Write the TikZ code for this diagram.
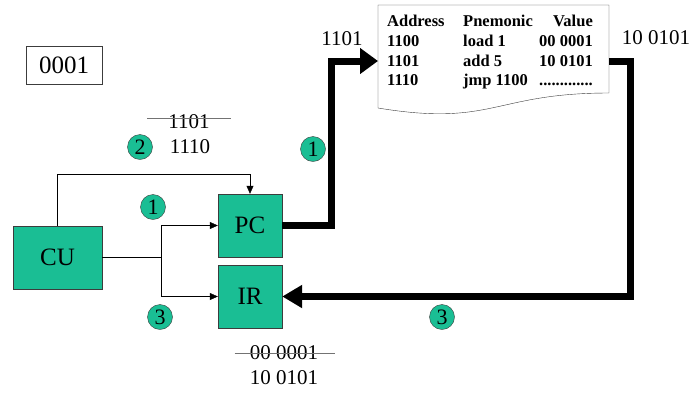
\documentclass[tikz,border=0pt]{standalone}
\usepackage{fontspec}
\setmainfont{Liberation Serif}
\usetikzlibrary{arrows.meta}

\definecolor{regfill}{RGB}{26,190,148}
\definecolor{regline}{RGB}{60,60,60}

\begin{document}
\begin{tikzpicture}[x=1pt, y=-1pt,
	reg/.style={draw=regline, fill=regfill, minimum height=63pt, font=\fontsize{25}{29}\selectfont},
	stepnum/.style={circle, draw=regline, fill=regfill, minimum size=25pt, inner sep=0pt, font=\fontsize{22}{26}\selectfont},
	val/.style={inner sep=1pt, font=\fontsize{21}{25}\selectfont},
	ctrl/.style={black, -{Triangle[length=8pt,width=7pt]}},
	bus/.style={line width=7pt, line join=miter},
	strike/.style={black!55}]
					
					\useasboundingbox (0,0) rectangle (691,392);
					
					\node[draw=regline, minimum width=76pt, minimum height=38pt, font=\fontsize{25}{29}\selectfont] (acc) at (64,65) {0001};
					
					\node[reg, minimum width=89pt] (CU) at (57.5,257.5) {CU};
					\node[reg, minimum width=64pt] (PC) at (250,225.5) {PC};
					\node[reg, minimum width=64pt] (IR) at (250,296.5) {IR};
					
					% memory
					\draw[regline, fill=white] (378,5) -- (609,5) -- (609,93) .. controls (493.5,93) and (493.5,127) .. (378,108) -- cycle;
					\node[anchor=west, inner sep=0pt, font=\bfseries\fontsize{16.5}{19.7}\selectfont] (prog) at (387,52.5) {%
						\begin{tabular}{@{}p{76pt}@{}p{76pt}@{}r@{}}
							Address & Pnemonic & Value\\
							1100 & load 1 & 00 0001\\
							1101 & add 5 & 10 0101\\
							1110 & jmp 1100 & .............
						\end{tabular}};
					\coordinate (docin) at (378,61);
					\coordinate (docout) at (609,61);
					
					\coordinate (up) at (331,61);
					\coordinate (ret) at (630,61);
					\draw[bus, -{Triangle[length=18pt,width=25pt]}] (PC.east) -| (up) -- (docin);
					\draw[bus, -{Triangle[length=20pt,width=22pt]}] (docout) -- (ret) |- (IR.east);
					
					\coordinate (loop) at (0,174);
					\coordinate (split) at (161,257.5);
					\draw[ctrl] (CU.north) -- (CU.north |- loop) -| (PC.north);
					\draw[ctrl] (CU.east) -- (split) |- (PC.west);
					\draw[ctrl] (split) |- (IR.west);
					
					\node[stepnum] (s2) at (140,147) {2};
					\node[stepnum] (s1a) at (153,207) {1};
					\node[stepnum] (s3a) at (160,317) {3};
					\node[stepnum] (s1b) at (313,149) {1};
					\node[stepnum] (s3b) at (442,317) {3};
					
					\node[val] (oldpc) at (189,122) {1101};
					\draw[strike] ([xshift=-20pt,yshift=4pt]oldpc.west) -- ([xshift=20pt,yshift=4pt]oldpc.east);
					\node[val] (newpc) at (190,147) {1110};
					
					\node[val] (addr) at (342,39) {1101};
					\node[val] (data) at (656,38) {10 0101};
					
					\node[val] (oldir) at (284,353) {00 0001};
					\draw[strike] ([xshift=-14pt]oldir.west) -- ([xshift=16pt]oldir.east);
					\node[val] (newir) at (284,378) {10 0101};
				\end{tikzpicture}
\end{document}
